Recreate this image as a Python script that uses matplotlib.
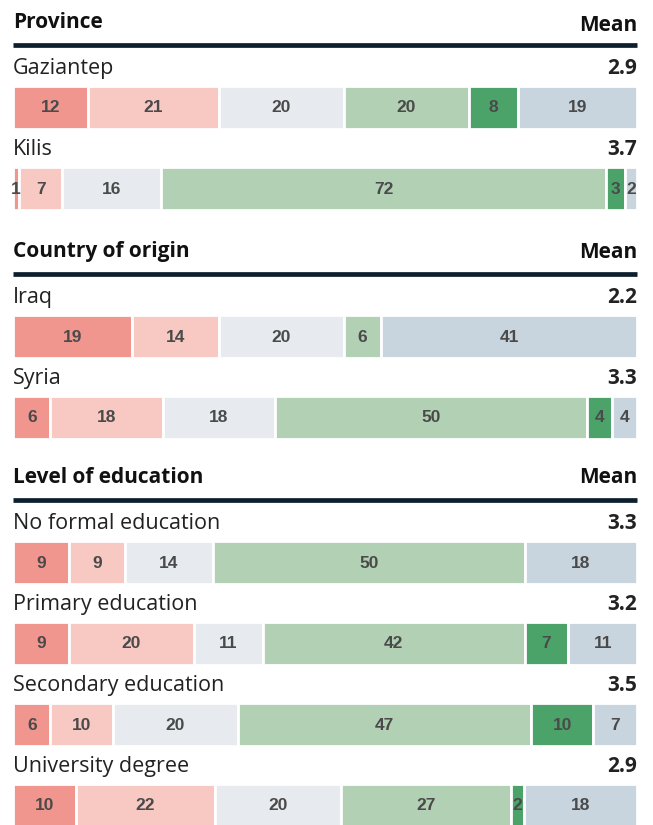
import matplotlib.pyplot as plt
import numpy as np

# categories of the 6-point response scale (colour order left -> right)
colors = ['#F1968E', '#F8C8C2', '#E7EBF0', '#B2D0B4', '#4BA369', '#C9D5DE']

sections = ['Province', 'Country of origin', 'Level of education']
rows = [
    ['Gaziantep', 'Kilis'],
    ['Iraq', 'Syria'],
    ['No formal education', 'Primary education', 'Secondary education', 'University degree'],
]
values = [
    [[12, 21, 20, 20, 8, 19], [1, 7, 16, 72, 3, 2]],
    [[19, 14, 20, 6, 0, 41], [6, 18, 18, 50, 4, 4]],
    [[9, 9, 14, 50, 0, 18], [9, 20, 11, 42, 7, 11],
     [6, 10, 20, 47, 10, 7], [10, 22, 20, 27, 2, 18]],
]
means = [['2.9', '3.7'], ['2.2', '3.3'], ['3.3', '3.2', '3.5', '2.9']]

W, H = 653, 825
fig = plt.figure(figsize=(W / 100, H / 100), dpi=100)
ax = fig.add_axes([0, 0, 1, 1])
ax.set_xlim(0, W)
ax.set_ylim(H, 0)
ax.axis('off')

x0, x1 = 13, 637
span = x1 - x0
starts = [28, 257, 483]
mean_shift = [3, 1, 0]
font = 'Open Sans'

for s, title in enumerate(sections):
    y0 = starts[s]
    ax.text(x0, y0, title, fontsize=15, fontweight='bold', family=font,
            color='#111111', va='baseline', ha='left')
    ax.text(x1, y0 + mean_shift[s], 'Mean', fontsize=15, fontweight='bold',
            family=font, color='#111111', va='baseline', ha='right')
    ax.plot([x0, x1], [y0 + 16.5, y0 + 16.5], color='#0D1F2D', lw=3.4,
            solid_capstyle='butt')
    for i, name in enumerate(rows[s]):
        lab_y = y0 + 46 + 81 * i
        ax.text(x0, lab_y, name, fontsize=15.5, family=font,
                color='#222222', va='baseline', ha='left')
        ax.text(x1, lab_y, means[s][i], fontsize=15, fontweight='bold',
                family=font, color='#222222', va='baseline', ha='right')
        vals = np.array(values[s][i], dtype=float)
        widths = vals / vals.sum() * span
        lefts = x0 + np.concatenate([[0], np.cumsum(widths)[:-1]])
        top = y0 + 58 + 81 * i
        ax.barh([top + 21.5] * len(vals), widths, left=lefts, height=43,
                color=colors, edgecolor='white', linewidth=2)
        for v, l, w in zip(values[s][i], lefts, widths):
            if v > 0:
                ax.text(l + w / 2, top + 22, str(v), fontsize=12.5,
                        fontweight='bold', family='Liberation Sans',
                        color='#4A4A4A', ha='center', va='center')

fig.savefig('out.png', dpi=100)
